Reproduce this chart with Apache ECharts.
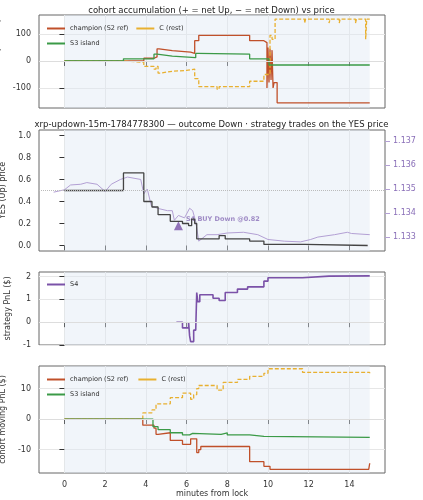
<!DOCTYPE html><html><head><meta charset="utf-8"><script src="https://cdn.jsdelivr.net/npm/echarts@6/dist/echarts.min.js"></script>
<style>html,body{margin:0;padding:0;background:#fff}#c{width:423px;height:500px}</style></head><body><div id="c"></div><script>
const champAcc=[[0,0],[3.9,10],[4.4,15],[4.55,45],[4.65,38],[5.3,33],[6.2,28],[6.4,75],[6.6,95],[9.1,75],[9.8,68],[9.95,-100],[10.0,50],[10.05,-80],[10.1,45],[10.15,-70],[10.2,40],[10.25,-100],[10.3,-80],[10.45,-155],[15,-155]];
const s3Acc=[[0,0],[2.9,8],[4.4,25],[4.55,18],[5.3,12],[6.45,28],[6.55,25],[9.1,8],[10.05,-15],[15,-17]];
const cAcc=[[0,0],[0.2,5],[0.25,0],[2.9,-5],[3.9,-20],[4.4,-30],[4.5,-20],[4.6,-45],[4.7,-38],[5.3,-35],[6.0,-30],[6.4,-65],[6.6,-95],[7.5,-105],[7.6,-95],[9.1,-75],[9.8,-50],[10.1,95],[10.2,80],[10.35,155],[11.8,140],[11.85,155],[13.0,140],[13.05,155],[13.5,140],[13.55,155],[14.3,140],[14.35,155],[14.8,80],[14.85,155],[15,155]];
const yesPrice=[[0,0.5],[2.9,0.66],[3.9,0.40],[4.3,0.35],[4.6,0.28],[5.2,0.22],[5.8,0.20],[6.1,0.18],[6.25,0.24],[6.4,0.20],[6.5,0.06],[7.6,0.09],[7.9,0.06],[9.1,0.04],[9.8,0.01],[11.8,0.0],[14.9,0.0]];
const xrp=[[-0.53,1.13487],[0,1.13497],[0.3,1.13517],[0.8,1.1352],[1.1,1.13527],[1.6,1.1352],[2.0,1.1349],[2.3,1.1352],[2.75,1.1354],[3.1,1.1355],[3.75,1.1354],[3.9,1.1348],[4.07,1.1350],[4.27,1.1343],[4.56,1.1342],[5.06,1.1341],[5.3,1.1341],[5.4,1.1337],[5.6,1.1339],[5.9,1.1338],[6.15,1.1342],[6.3,1.1341],[6.45,1.13365],[6.6,1.13283],[7.0,1.1331],[7.5,1.1331],[8.0,1.13317],[8.8,1.1332],[9.5,1.1331],[10.0,1.1329],[10.8,1.13283],[11.6,1.1328],[12.1,1.1329],[12.45,1.1330],[13.27,1.1331],[13.9,1.1332],[14.1,1.13315],[15,1.1331]];
const s4Pnl=[[5.5,0],[5.8,-0.25],[6.1,0],[6.15,-0.6],[6.2,-0.85],[6.35,-0.35],[6.45,-0.4],[6.5,1.3],[6.55,0.9],[6.65,1.2],[7.3,1.05],[7.6,0.95],[7.9,1.3],[8.5,1.45],[9.0,1.55],[9.8,1.8],[10.0,1.95],[11.7,2.02],[13,2.03],[15,2.05]];
const champPnl=[[0,0],[3.85,-2],[4.4,-3],[4.5,-5],[4.6,-4.5],[5.2,-7],[5.8,-8.3],[6.2,-6.5],[6.5,-11],[6.6,-10],[6.7,-9],[9.1,-14],[9.8,-15.5],[10.1,-16.5],[14.95,-16.5],[15,-14.5]];
const s3Pnl=[[0,0],[4.35,-2.5],[4.6,-3.5],[5.2,-4.5],[5.8,-5.2],[6.15,-4.7],[6.3,-5],[7.7,-4.5],[8.0,-5.2],[9.1,-5.7],[9.8,-6],[15,-5.8]];
const cPnl=[[0,0],[3.85,2],[4.3,3],[4.5,5],[5.2,7],[5.8,8.5],[6.2,6.5],[6.35,8],[6.5,10],[6.6,11],[7.5,9.5],[7.8,12],[8.5,13],[9.1,14],[9.8,15],[10.0,16.5],[11.7,15.3],[15,15]];
const trade=[[5.6,0.18]];
const xTicks=[0,2,4,6,8,10,12,14];
const accTicks=[-100,0,100];
const yesTicks=[0,0.2,0.4,0.6,0.8,1.0];
const xrpTicks=[1.133,1.134,1.135,1.136,1.137];
const s4Ticks=[-1,0,1,2];
const pnlTicks=[-10,0,10];

const RED='#c0502a',GRN='#3b9a47',YEL='#e8b030',PUR='#7b52a8',LPUR='#b3a0d4';
const grids=[{top:15,bottom:392},{top:130,bottom:249},{top:272,bottom:155},{top:366,bottom:27}];
const ax={fontSize:8,color:'#333'};
function xa(i,lab){return {type:'value',gridIndex:i,min:-1.25,max:15.75,axisLine:{show:false},splitLine:{show:true,lineStyle:{color:'#e6e6e6'}},
 axisTick:{customValues:xTicks,lineStyle:{color:'#333'}},axisLabel:Object.assign({show:lab,customValues:xTicks},ax),
 name:lab?'minutes from lock':'',nameLocation:'middle',nameGap:16,nameTextStyle:{fontSize:8,color:'#333'}};}
function ya(i,ticks,o){return Object.assign({type:'value',gridIndex:i,axisLine:{show:false},axisTick:{show:true,customValues:ticks,lineStyle:{color:'#333'}},
 splitLine:{show:true,lineStyle:{color:'#e6e6e6'}},axisLabel:Object.assign({customValues:ticks},ax),nameLocation:'middle',nameTextStyle:{fontSize:8,color:'#333'}},o);}
const shade={silent:true,itemStyle:{color:'rgba(225,232,245,0.45)'},data:[[{xAxis:0},{xAxis:15}]]};
function ln(name,data,color,xi,yi,dash,extra){return Object.assign({name,type:'line',step:'end',data,xAxisIndex:xi,yAxisIndex:yi,showSymbol:false,symbol:'none',
 lineStyle:{color,width:1.3,type:dash?[4,2]:'solid'},itemStyle:{color}},extra||{});}
const zero={silent:true,symbol:'none',label:{show:false},lineStyle:{color:'#ddd',type:'solid',width:1},data:[{yAxis:0}]};
const lg={icon:'rect',itemWidth:18,itemHeight:2,itemGap:8,textStyle:{fontSize:6.5,color:'#333'}};
const opt={animation:false,textStyle:{fontFamily:'DejaVu Sans'},
 title:[{text:'cohort accumulation (+ = net Up, − = net Down) vs price',left:'center',top:1,textStyle:{fontSize:8.5,fontWeight:'normal',color:'#222'}},
  {text:'xrp-updown-15m-1784778300 — outcome Down · strategy trades on the YES price',left:'center',top:115,textStyle:{fontSize:8.5,fontWeight:'normal',color:'#222'}}],
 grid:grids.map(g=>Object.assign({left:39,right:38,show:true,borderColor:'#666',borderWidth:1,backgroundColor:'#fff',outerBoundsMode:'none',containLabel:false},g)),
 legend:[Object.assign({data:['champion (S2 ref)','C (rest)','S3 island'],left:42,top:20,width:150},lg),
  Object.assign({data:['S4'],left:42,top:276},lg),
  Object.assign({data:['champion (S2 ref) ','C (rest) ','S3 island '],left:42,top:371,width:150},lg)],
 xAxis:[xa(0,false),xa(1,false),xa(2,false),xa(3,true)],
 yAxis:[ya(0,accTicks,{min:-174,max:170,name:'acc. net YES (shares)',nameGap:24}),
  ya(1,yesTicks,{min:-0.05,max:1.05,name:'YES (Up) price',nameGap:24,splitLine:{show:false},axisLabel:Object.assign({customValues:yesTicks,formatter:v=>v.toFixed(1)},ax)}),
  ya(1,xrpTicks,{position:'right',min:1.13242,max:1.13746,splitLine:{show:false},axisTick:{show:true,customValues:xrpTicks,lineStyle:{color:LPUR}},
   axisLabel:{customValues:xrpTicks,fontSize:8,color:'#8a6fb8',formatter:v=>v.toFixed(3)},name:'XRP/USD (strike dotted = YES 0.5)',nameGap:30,nameRotate:90,nameTextStyle:{fontSize:7,color:'#a58fcc'}}),
  ya(2,s4Ticks,{min:-1,max:2.2,name:'strategy PnL ($)',nameGap:14}),
  ya(3,pnlTicks,{min:-17.7,max:17.4,name:'cohort moving PnL ($)',nameGap:18})],
 series:[
  ln('champion (S2 ref)',champAcc,RED,0,0,false,{markArea:shade,markLine:zero}),
  ln('C (rest)',cAcc,YEL,0,0,true),
  ln('S3 island',s3Acc,GRN,0,0,false),
  ln('xrp',xrp,LPUR,1,2,false,{step:false,lineStyle:{color:LPUR,width:1}}),
  ln('yes',yesPrice,'#444',1,1,false,{markArea:shade,markLine:{silent:true,symbol:'none',label:{show:false},lineStyle:{color:'#bbb',type:'dotted',width:1},data:[{yAxis:0.5}]}}),
  {type:'scatter',data:trade,xAxisIndex:1,yAxisIndex:1,symbol:'triangle',symbolSize:9,itemStyle:{color:PUR},
   label:{show:true,position:'right',distance:3,offset:[0,-6],formatter:'S4 BUY Down @0.82',fontSize:6.5,fontWeight:'bold',color:'#8a6fb8'}},
  ln('S4',s4Pnl,PUR,2,3,false,{markArea:shade,markLine:zero,lineStyle:{color:PUR,width:1.6}}),
  ln('champion (S2 ref) ',champPnl,RED,3,4,false,{markArea:shade,markLine:zero}),
  ln('C (rest) ',cPnl,YEL,3,4,true),
  ln('S3 island ',s3Pnl,GRN,3,4,false)
 ]};
echarts.init(document.getElementById('c')).setOption(opt);
</script></body></html>
